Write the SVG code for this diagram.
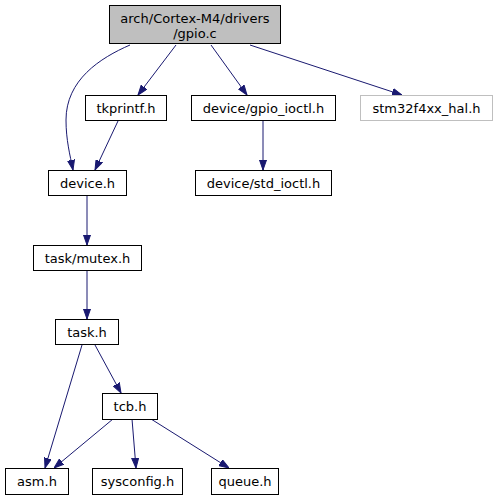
<svg xmlns="http://www.w3.org/2000/svg" width="495" height="500" viewBox="0 0 495 500">
<defs>
<style>
.n rect{fill:#ffffff;stroke:#000000;stroke-width:1}
.n text{font-family:"DejaVu Sans",sans-serif;font-size:13px;fill:#000000;text-anchor:middle}
#n_root rect{fill:#bfbfbf}
#n_stm rect{stroke:#bfbfbf}
.e path{fill:none;stroke:#191970;stroke-width:1}
</style>
<marker id="ah" markerUnits="userSpaceOnUse" markerWidth="10" markerHeight="8" refX="10" refY="4" orient="auto">
<path d="M0,0.5 L10,4 L0,7.5 z" fill="#191970" stroke="#191970" stroke-width="1"/>
</marker>
</defs>
<rect width="495" height="500" fill="#ffffff"/>
<g id="edges" class="e">
<path d="M130,45 C100,58 66,80 66,120 C66,140 70,155 73,170" marker-end="url(#ah)"/>
<path d="M176,45 L138,95" marker-end="url(#ah)"/>
<path d="M211,45 L247,95" marker-end="url(#ah)"/>
<path d="M250,45 L402,95" marker-end="url(#ah)"/>
<path d="M118,121 L95,170" marker-end="url(#ah)"/>
<path d="M263,121 L263,170" marker-end="url(#ah)"/>
<path d="M87,196 L87,245" marker-end="url(#ah)"/>
<path d="M87,270 L87,319" marker-end="url(#ah)"/>
<path d="M82,345 L45,468" marker-end="url(#ah)"/>
<path d="M95,345 L121,393" marker-end="url(#ah)"/>
<path d="M113,419 L54,468" marker-end="url(#ah)"/>
<path d="M132,419 L136,468" marker-end="url(#ah)"/>
<path d="M151,419 L229,468" marker-end="url(#ah)"/>
</g>
<g id="n_root" class="n"><rect x="109.5" y="5.5" width="171" height="38"/><text x="195" y="23">arch/Cortex-M4/drivers</text><text x="195" y="38">/gpio.c</text></g>
<g id="n_tkprintf" class="n"><rect x="85.5" y="95.5" width="81" height="25"/><text x="126" y="112.5">tkprintf.h</text></g>
<g id="n_gpioioctl" class="n"><rect x="191.5" y="95.5" width="144" height="25"/><text x="263.5" y="112.5">device/gpio_ioctl.h</text></g>
<g id="n_stm" class="n"><rect x="360.5" y="95.5" width="132" height="25"/><text x="426.5" y="112.5">stm32f4xx_hal.h</text></g>
<g id="n_device" class="n"><rect x="48.5" y="170.5" width="78" height="25"/><text x="87.5" y="187.5">device.h</text></g>
<g id="n_stdioctl" class="n"><rect x="195.5" y="170.5" width="136" height="25"/><text x="263.5" y="187.5">device/std_ioctl.h</text></g>
<g id="n_mutex" class="n"><rect x="33.5" y="245.5" width="108" height="25"/><text x="87.5" y="262.5">task/mutex.h</text></g>
<g id="n_task" class="n"><rect x="55.5" y="319.5" width="63" height="25"/><text x="87" y="336.5">task.h</text></g>
<g id="n_tcb" class="n"><rect x="102.5" y="393.5" width="55" height="26"/><text x="130" y="411">tcb.h</text></g>
<g id="n_asm" class="n"><rect x="5.5" y="468.5" width="63" height="26"/><text x="37" y="486">asm.h</text></g>
<g id="n_sysconfig" class="n"><rect x="92.5" y="468.5" width="90" height="26"/><text x="137.5" y="486">sysconfig.h</text></g>
<g id="n_queue" class="n"><rect x="211.5" y="468.5" width="67" height="26"/><text x="245" y="486">queue.h</text></g>
</svg>
